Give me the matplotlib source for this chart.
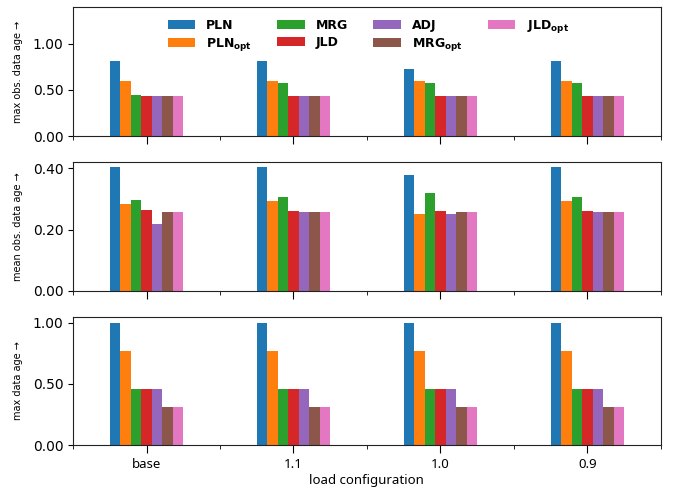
import numpy as np
import matplotlib.pyplot as plt
from matplotlib.ticker import FormatStrFormatter, FixedLocator

configs = ['base', '1.1', '1.0', '0.9']
methods = ['PLN', r'PLN$_\mathbf{opt}$', 'MRG', 'JLD', 'ADJ',
           r'MRG$_\mathbf{opt}$', r'JLD$_\mathbf{opt}$']
colors = ['#1f77b4', '#ff7f0e', '#2ca02c', '#d62728', '#9467bd', '#8c564b', '#e377c2']

# rows: configs, columns: methods
max_obs_age = [
    [0.815, 0.600, 0.446, 0.435, 0.435, 0.435, 0.435],
    [0.815, 0.600, 0.574, 0.435, 0.435, 0.435, 0.435],
    [0.728, 0.598, 0.576, 0.435, 0.435, 0.435, 0.435],
    [0.815, 0.598, 0.576, 0.435, 0.435, 0.435, 0.435],
]
mean_obs_age = [
    [0.404, 0.282, 0.295, 0.265, 0.219, 0.256, 0.256],
    [0.404, 0.292, 0.308, 0.262, 0.259, 0.256, 0.256],
    [0.377, 0.252, 0.318, 0.262, 0.252, 0.256, 0.256],
    [0.404, 0.292, 0.308, 0.262, 0.259, 0.256, 0.256],
]
max_age = [
    [1.000, 0.771, 0.458, 0.458, 0.458, 0.311, 0.311],
    [1.000, 0.771, 0.458, 0.458, 0.458, 0.311, 0.311],
    [1.000, 0.771, 0.458, 0.458, 0.458, 0.311, 0.311],
    [1.000, 0.771, 0.458, 0.458, 0.458, 0.311, 0.311],
]

panels = [
    (max_obs_age, 'max obs. data age →', 1.4, [0, 0.5, 1.0]),
    (mean_obs_age, 'mean obs. data age →', 0.42, [0, 0.2, 0.4]),
    (max_age, 'max data age →', 1.05, [0, 0.5, 1.0]),
]

fig = plt.figure(figsize=(6.77, 4.93), dpi=100)
boxes = [(0.108, 0.724, 0.868, 0.262),
         (0.108, 0.410, 0.868, 0.261),
         (0.108, 0.097, 0.868, 0.261)]

x = np.arange(len(configs))
w = 0.5 / len(methods)

axes = []
for (data, ylabel, ymax, yticks), box in zip(panels, boxes):
    ax = fig.add_axes(box)
    data = np.array(data)
    for j, name in enumerate(methods):
        ax.bar(x - 0.25 + w * (j + 0.5), data[:, j], width=w, color=colors[j],
               label=name)
    ax.set_xlim(-0.5, 3.5)
    ax.set_ylim(0, ymax)
    ax.set_yticks(yticks)
    ax.yaxis.set_major_formatter(FormatStrFormatter('%.2f'))
    ax.set_xticks(x)
    ax.xaxis.set_minor_locator(FixedLocator([-0.5, 0.5, 1.5, 2.5, 3.5]))
    ax.tick_params(axis='x', which='major', length=6)
    ax.tick_params(axis='x', which='minor', length=3)
    ax.tick_params(axis='y', labelsize=10)
    ax.set_ylabel(ylabel, fontsize=7)
    for s in ax.spines.values():
        s.set_color('#222222')
    axes.append(ax)

for ax in axes[:-1]:
    ax.set_xticklabels([])
axes[-1].set_xticklabels(configs, family='Noto Sans', fontsize=9.5)
axes[-1].set_xlabel('load configuration', family='Noto Sans', fontsize=9.5,
                    labelpad=2)

axes[0].legend(ncol=4, loc='upper center', frameon=False,
               prop={'weight': 'bold', 'size': 9},
               handlelength=2.2, handleheight=0.8, handletextpad=0.9,
               columnspacing=2.0, labelspacing=0.3, borderaxespad=0.5,
               bbox_to_anchor=(0.502, 1.0))

for ax in axes:
    ax.yaxis.set_label_coords(-0.085, 0.5)

fig.savefig('out.png', dpi=100)
